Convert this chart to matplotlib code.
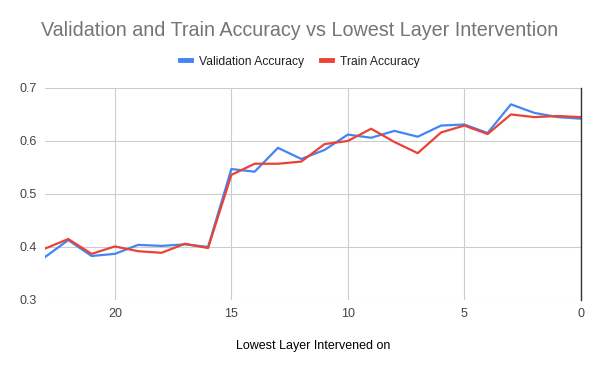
import matplotlib.pyplot as plt
from matplotlib.lines import Line2D

plt.rcParams.update({
    "font.family": ["Liberation Sans", "DejaVu Sans"],
    "text.color": "#222222",
    "xtick.color": "#444444",
    "ytick.color": "#444444",
})

# lowest layer intervened on (x axis runs from 23 down to 0)
layers = list(range(23, -1, -1))
val_acc = [0.381, 0.413, 0.383, 0.387, 0.404, 0.402, 0.405, 0.400,
           0.547, 0.542, 0.587, 0.566, 0.583, 0.612, 0.606, 0.619,
           0.608, 0.629, 0.631, 0.615, 0.669, 0.653, 0.645, 0.642]
train_acc = [0.397, 0.415, 0.387, 0.401, 0.392, 0.389, 0.406, 0.398,
             0.536, 0.557, 0.557, 0.561, 0.594, 0.600, 0.623, 0.598,
             0.577, 0.616, 0.629, 0.613, 0.650, 0.645, 0.647, 0.645]
xticks = [20, 15, 10, 5, 0]
yticks = [0.3, 0.4, 0.5, 0.6, 0.7]

blue = "#4285F4"
red = "#EA4335"

fig = plt.figure(figsize=(6, 3.71), dpi=100)
ax = fig.add_axes([0.075, 0.1914, 0.893, 0.5716])

ax.plot(layers, val_acc, color=blue, lw=1.6, solid_joinstyle="round")
ax.plot(layers, train_acc, color=red, lw=1.6, solid_joinstyle="round")

ax.set_xlim(23, 0)
ax.set_ylim(0.3, 0.7)
ax.set_xticks(xticks)
ax.set_yticks(yticks)
ax.set_yticklabels([f"{v:.1f}" for v in yticks])
ax.grid(True, color="#cccccc", lw=0.8)
ax.set_axisbelow(True)
for s in ["top", "left", "bottom"]:
    ax.spines[s].set_visible(False)
ax.spines["right"].set_color("#333333")
ax.spines["right"].set_linewidth(1.0)
ax.tick_params(length=0, labelsize=9, pad=6)

ax.set_xlabel("Lowest Layer Intervened on", fontsize=9, labelpad=14)

fig.text(0.5, 0.919, "Validation and Train Accuracy vs Lowest Layer Intervention",
         ha="center", va="center", fontsize=14.2, color="#757575")

handles = [Line2D([], [], color=blue, lw=3.5), Line2D([], [], color=red, lw=3.5)]
fig.legend(handles, ["Validation Accuracy", "Train Accuracy"], loc="center",
           bbox_to_anchor=(0.5, 0.834), ncol=2, frameon=False, fontsize=8.7,
           handlelength=0.9, handletextpad=0.7, columnspacing=1.4)

fig.savefig("out.png", dpi=100)
